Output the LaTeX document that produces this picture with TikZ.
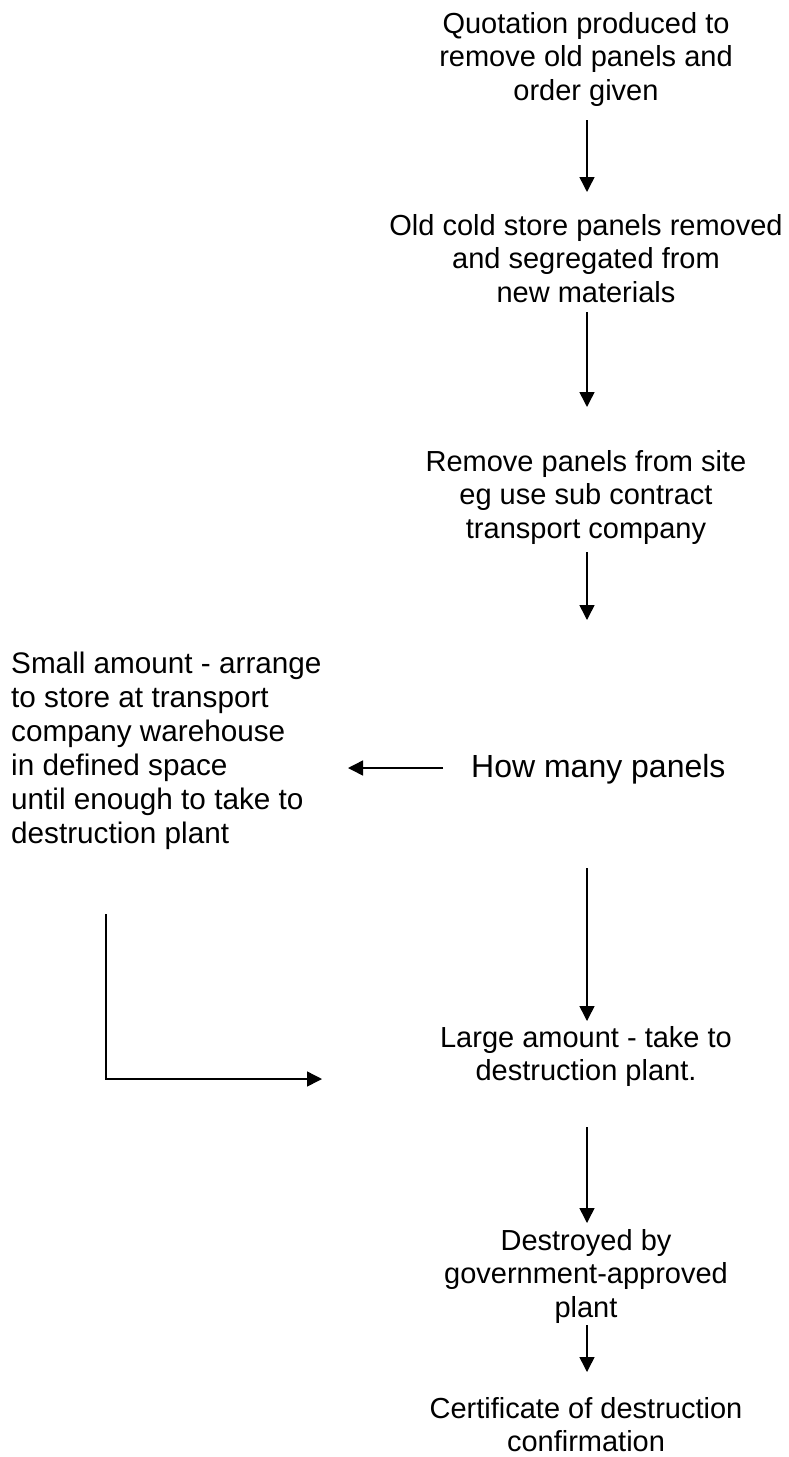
\documentclass[tikz,border=0pt]{standalone}
\usepackage{fontspec}
\setmainfont{Liberation Sans}
\usetikzlibrary{arrows.meta}
\begin{document}
\begin{tikzpicture}[x=1pt,y=-1pt,
  lbl/.style={inner sep=0pt, align=center, anchor=north, font=\fontsize{29}{33.4}\selectfont},
  arr/.style={line width=1.5pt, -{Triangle[length=15pt,width=15pt]}}]
\useasboundingbox (0,0) rectangle (789,1457);
% text nodes
\node[lbl] (quote) at (586,12) {Quotation produced to\\remove old panels and\\order given};
\node[lbl] (removed) at (586,214) {Old cold store panels removed\\and segregated from\\new materials};
\node[lbl] (site) at (586,450) {Remove panels from site\\eg use sub contract\\transport company};
\node[inner sep=0pt, anchor=base west, font=\fontsize{32}{36}\selectfont] (howmany) at (471,777) {How many panels};
\node[lbl, align=left, anchor=north west, font=\fontsize{29.7}{34}\selectfont] (small) at (11,652) {Small amount - arrange\\to store at transport\\company warehouse\\in defined space\\until enough to take to\\destruction plant};
\node[lbl] (large) at (586,1026) {Large amount - take to\\destruction plant.};
\node[lbl] (destroyed) at (586,1229) {Destroyed by\\government-approved\\plant};
\node[lbl] (cert) at (586,1397) {Certificate of destruction\\confirmation};
% connector end points
\coordinate (a1s) at (587,120);  \coordinate (a1e) at (587,192);
\coordinate (a2s) at (587,312);  \coordinate (a2e) at (587,407);
\coordinate (a3s) at (587,552);  \coordinate (a3e) at (587,620);
\coordinate (a4s) at (443,768);  \coordinate (a4e) at (348,768);
\coordinate (a5s) at (587,868);  \coordinate (a5e) at (587,1021);
\coordinate (lts) at (106,914);  \coordinate (ltc) at (106,1079); \coordinate (lte) at (322,1079);
\coordinate (a6s) at (587,1127); \coordinate (a6e) at (587,1223);
\coordinate (a7s) at (587,1325); \coordinate (a7e) at (587,1372);
% connectors
\draw[arr] (a1s) -- (a1e);
\draw[arr] (a2s) -- (a2e);
\draw[arr] (a3s) -- (a3e);
\draw[arr] (a4s) -- (a4e);
\draw[arr] (a5s) -- (a5e);
\draw[arr] (lts) -- (ltc) -- (lte);
\draw[arr] (a6s) -- (a6e);
\draw[arr] (a7s) -- (a7e);
\end{tikzpicture}
\end{document}
